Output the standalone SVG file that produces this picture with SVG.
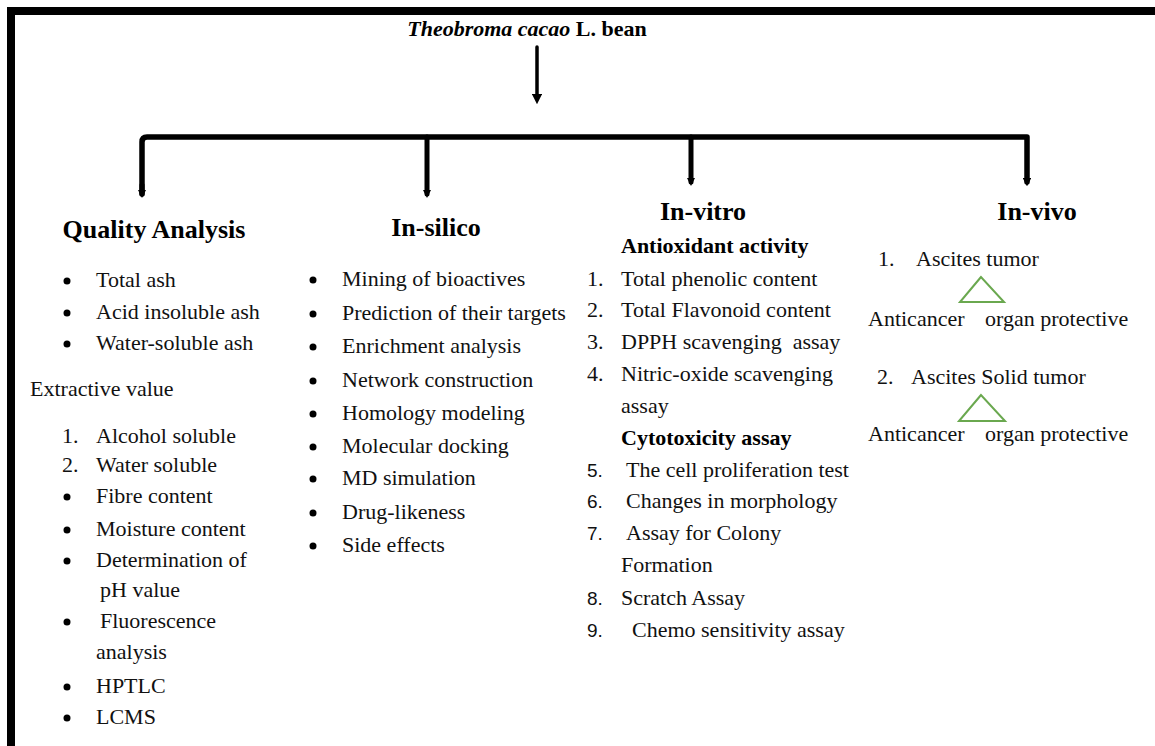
<svg xmlns="http://www.w3.org/2000/svg" width="1155" height="746" viewBox="0 0 1155 746">
<style>
.h{font-weight:bold;font-size:26px;fill:#000}
.b{font-weight:bold;font-size:22px;fill:#000}
.n{font-family:'Liberation Sans',Arial,sans-serif;font-size:19px}
.con{stroke:#000;fill:none;stroke-linecap:round;stroke-linejoin:round}
.tri{fill:none;stroke:#6aa84f;stroke-width:2}
</style>
<defs>
<marker id="ah" viewBox="0 0 10 10" refX="5" refY="5" markerWidth="3" markerHeight="3" orient="auto"><path d="M0,0L10,5L0,10z" fill="#000"/></marker>
<marker id="ah2" viewBox="0 0 10 10" refX="5" refY="5" markerWidth="1.6" markerHeight="1.6" orient="auto"><path d="M0,0L10,5L0,10z" fill="#000"/></marker>
</defs>
<rect width="1155" height="746" fill="#fff"/>
<g id="frame">
<rect x="7" y="7" width="1148" height="8" fill="#000"/>
<rect x="7" y="7" width="8" height="739" fill="#000"/>
</g>
<g id="connectors">
<line class="con" x1="537" y1="47" x2="537" y2="99" stroke-width="3.5" marker-end="url(#ah)"/>
<path class="con" d="M142,194 V142 Q142,137 147,137 H1027 V182" stroke-width="5.5" marker-end="url(#ah2)"/>
<line class="con" x1="427" y1="137" x2="427" y2="194" stroke-width="5" marker-end="url(#ah2)"/>
<line class="con" x1="691" y1="137" x2="691" y2="182" stroke-width="5" marker-end="url(#ah2)"/>
<line class="con" x1="142" y1="185" x2="142" y2="194" stroke-width="5" marker-end="url(#ah2)"/>
</g>
<g font-family="Liberation Serif" font-size="22" fill="#111">
<g id="root">
<text x="527" y="36" text-anchor="middle" class="b"><tspan font-style="italic">Theobroma cacao</tspan> L. bean</text>
</g>
<g id="quality">
<text x="154" y="238" text-anchor="middle" class="h">Quality Analysis</text>
<g fill="#000"><circle cx="67" cy="281" r="3.5"/><circle cx="67" cy="313" r="3.5"/><circle cx="67" cy="344" r="3.5"/><circle cx="67" cy="497" r="3.5"/><circle cx="67" cy="530" r="3.5"/><circle cx="67" cy="561" r="3.5"/><circle cx="67" cy="622" r="3.5"/><circle cx="67" cy="687" r="3.5"/><circle cx="67" cy="718" r="3.5"/></g>
<text x="96" y="287">Total ash</text>
<text x="96" y="319">Acid insoluble ash</text>
<text x="96" y="350">Water-soluble ash</text>
<text x="30" y="396">Extractive value</text>
<text x="62" y="443">1.</text><text x="96" y="443">Alcohol soluble</text>
<text x="62" y="472">2.</text><text x="96" y="472">Water soluble</text>
<text x="96" y="503">Fibre content</text>
<text x="96" y="536">Moisture content</text>
<text x="96" y="567">Determination of</text>
<text x="100" y="597">pH value</text>
<text x="100" y="628">Fluorescence</text>
<text x="96" y="659">analysis</text>
<text x="96" y="693">HPTLC</text>
<text x="96" y="724">LCMS</text>
</g>
<g id="insilico">
<text x="436" y="236" text-anchor="middle" class="h">In-silico</text>
<g fill="#000"><circle cx="313" cy="280" r="3.5"/><circle cx="313" cy="314" r="3.5"/><circle cx="313" cy="347" r="3.5"/><circle cx="313" cy="381" r="3.5"/><circle cx="313" cy="414" r="3.5"/><circle cx="313" cy="447" r="3.5"/><circle cx="313" cy="479" r="3.5"/><circle cx="313" cy="513" r="3.5"/><circle cx="313" cy="546" r="3.5"/></g>
<text x="342" y="286">Mining of bioactives</text>
<text x="342" y="320">Prediction of their targets</text>
<text x="342" y="353">Enrichment analysis</text>
<text x="342" y="387">Network construction</text>
<text x="342" y="420">Homology modeling</text>
<text x="342" y="453">Molecular docking</text>
<text x="342" y="485">MD simulation</text>
<text x="342" y="519">Drug-likeness</text>
<text x="342" y="552">Side effects</text>
</g>
<g id="invitro">
<text x="703" y="220" text-anchor="middle" class="h">In-vitro</text>
<text x="621" y="253" class="b">Antioxidant activity</text>
<text x="587" y="286">1.</text><text x="621" y="286">Total phenolic content</text>
<text x="587" y="317">2.</text><text x="621" y="317">Total Flavonoid content</text>
<text x="587" y="349">3.</text><text x="621" y="349" xml:space="preserve">DPPH scavenging  assay</text>
<text x="587" y="381">4.</text><text x="621" y="381">Nitric-oxide scavenging</text>
<text x="621" y="413">assay</text>
<text x="621" y="445" class="b">Cytotoxicity assay</text>
<text x="587" y="477" class="n">5.</text><text x="626" y="477">The cell proliferation test</text>
<text x="587" y="508" class="n">6.</text><text x="626" y="508">Changes in morphology</text>
<text x="587" y="540" class="n">7.</text><text x="626" y="540">Assay for Colony</text>
<text x="621" y="572">Formation</text>
<text x="587" y="605" class="n">8.</text><text x="621" y="605">Scratch Assay</text>
<text x="587" y="637" class="n">9.</text><text x="632" y="637">Chemo sensitivity assay</text>
</g>
<g id="invivo">
<text x="1037" y="220" text-anchor="middle" class="h">In-vivo</text>
<text x="878" y="266">1.</text><text x="916" y="266">Ascites tumor</text>
<polygon class="tri" points="981,277 960,302 1004,302"/>
<text x="868" y="326">Anticancer</text><text x="985" y="326">organ protective</text>
<text x="877" y="384">2.</text><text x="911" y="384">Ascites Solid tumor</text>
<polygon class="tri" points="981,395 959,421 1005,421"/>
<text x="868" y="441">Anticancer</text><text x="985" y="441">organ protective</text>
</g>
</g>
</svg>
